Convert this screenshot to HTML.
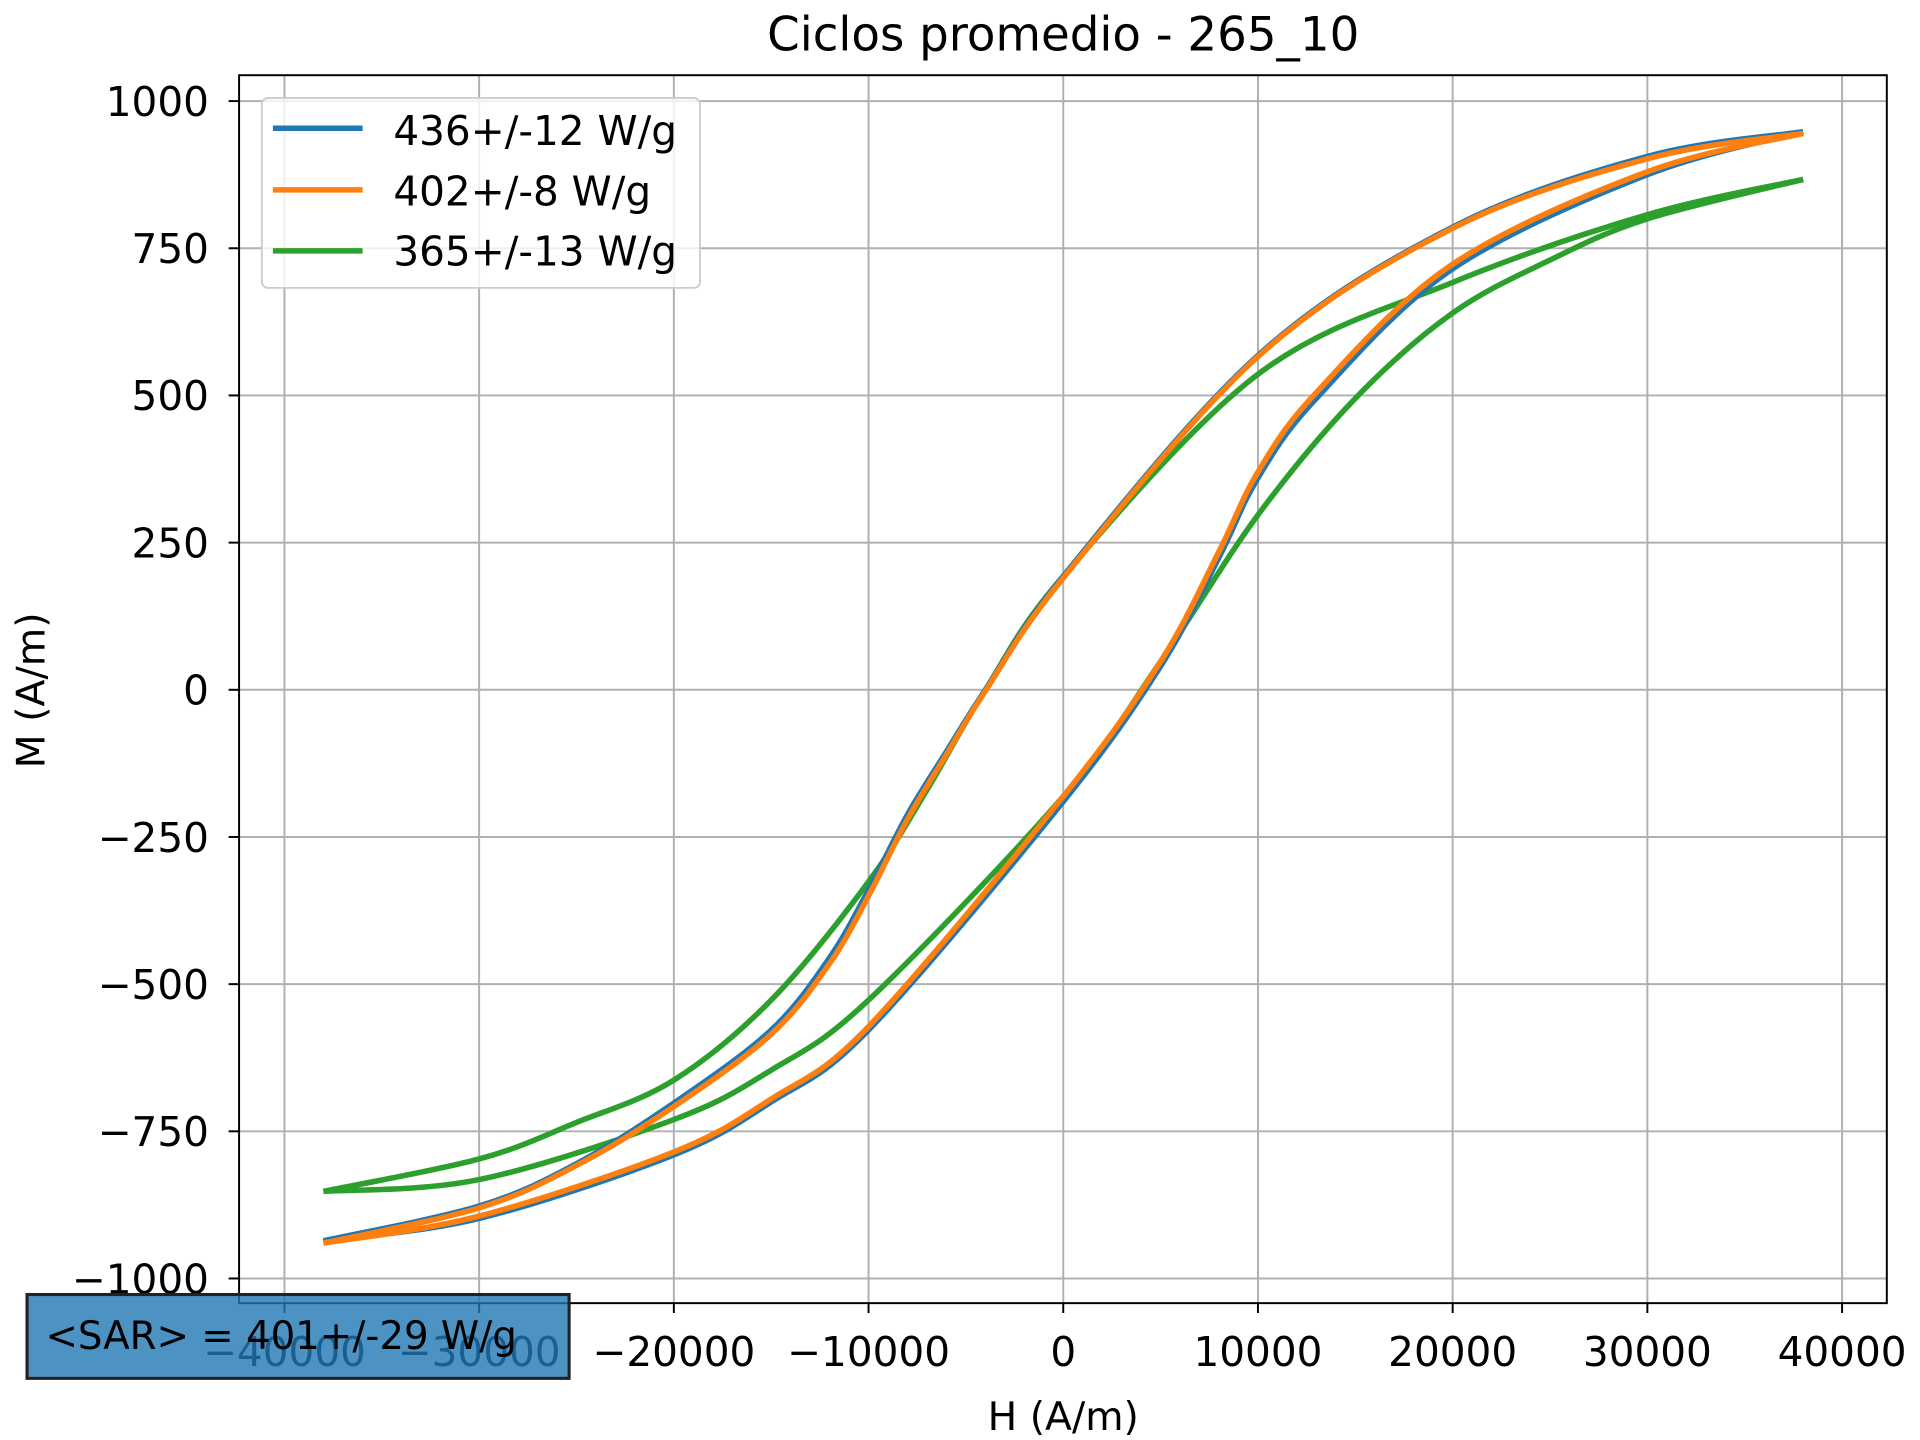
<!DOCTYPE html>
<html><head><meta charset="utf-8"><style>html,body{margin:0;padding:0;background:#fff}svg{display:block}text{font-family:"DejaVu Sans","Liberation Sans",sans-serif;fill:#000}</style></head>
<body>
<svg id="chart" width="1920" height="1440" viewBox="0 0 1562 1168" preserveAspectRatio="none" xmlns="http://www.w3.org/2000/svg">
<rect width="1562" height="1168" fill="#fff"/>
<g id="grid"></g>
<g id="series"></g>
<rect x="194.5" y="61" width="1340.5" height="996" fill="none" stroke="#000" stroke-width="1.6"/>
<g id="ticks"></g>
<text x="865" y="41" font-size="38" text-anchor="middle">Ciclos promedio - 265_10</text>
<text x="865" y="1160" font-size="32" text-anchor="middle">H (A/m)</text>
<text transform="translate(36,560) rotate(-90)" font-size="32" text-anchor="middle">M (A/m)</text>
<g>
<rect x="213" y="79.5" width="356.5" height="154" rx="5" fill="#fff" fill-opacity="0.8" stroke="#ccc" stroke-width="1.5"/>
<line x1="222" y1="104" x2="295" y2="104" stroke="#1f77b4" stroke-width="4.5"/>
<text x="320" y="117.5" font-size="33">436+/-12 W/g</text>
<line x1="222" y1="154" x2="295" y2="154" stroke="#ff7f0e" stroke-width="4.5"/>
<text x="320" y="166.5" font-size="33">402+/-8 W/g</text>
<line x1="222" y1="203.5" x2="295" y2="203.5" stroke="#2ca02c" stroke-width="4.5"/>
<text x="320" y="215.5" font-size="33">365+/-13 W/g</text>
</g>
<g>
<rect x="22" y="1050" width="441" height="68" fill="#1f77b4" fill-opacity="0.8" stroke="#222" stroke-width="2.5"/>
<text x="37" y="1094" font-size="31.5">&lt;SAR&gt; = 401+/-29 W/g</text>
</g>
</svg>
<script>
const xTicks=[-40000,-30000,-20000,-10000,0,10000,20000,30000,40000];
const yTicks=[-1000,-750,-500,-250,0,250,500,750,1000];
const hUp=[38000,30000,20000,10000,0,-4000,-6000,-8000,-10000,-12000,-15000,-20000,-25000,-30000,-38000];
const blueUp=[948,906,786,568,193,0,-105,-212,-340,-455,-578,-702,-805,-877,-936];
const orangeUp=[945,902,784,566,190,-2,-110,-220,-350,-465,-585,-708,-808,-880,-940];
const hLow=[-38000,-30000,-20000,-15000,-10000,0,5000,8000,10000,13000,20000,30000,38000];
const blueLow=[-936,-898,-790,-700,-578,-190,40,225,360,495,715,875,948];
const orangeLow=[-940,-894,-785,-695,-572,-181,48,235,370,505,723,880,945];
const hGreen=[38000,30000,20000,10000,0,-4000,-7000,-10000,-15000,-20000,-25000,-30000,-38000];
const greenUp=[867,807,692,536,193,0,-170,-326,-527,-663,-735,-797,-852];
const hGreenLow=[-38000,-30000,-20000,-15000,-10000,0,5000,10000,15000,20000,25000,30000,38000];
const greenLow=[-852,-832,-730,-646,-527,-181,48,297,495,640,730,800,867];
const X=h=>865+h*0.01584, Y=m=>559.5-m*0.4775;
const NS="http://www.w3.org/2000/svg";
function el(t,a,p){const e=document.createElementNS(NS,t);for(const k in a)e.setAttribute(k,a[k]);p.appendChild(e);return e;}
const grid=document.getElementById('grid'),ticks=document.getElementById('ticks');
xTicks.forEach(v=>{const x=X(v);
 const g=el('line',{x1:x,x2:x,y1:61,y2:1057,stroke:'#b0b0b0','stroke-width':1.6},grid);
 
 
 el('line',{x1:x,x2:x,y1:1057,y2:1065,stroke:'#000','stroke-width':1.6},ticks);
 const t=el('text',{x:x,y:1108,'font-size':33,'text-anchor':'middle'},ticks);t.textContent=String(v).replace('-','\u2212');
 
 });
yTicks.forEach(v=>{const y=Y(v);
 const g=el('line',{x1:194.5,x2:1535,y1:y,y2:y,stroke:'#b0b0b0','stroke-width':1.6},grid);
 
 
 el('line',{x1:186,x2:194.5,y1:y,y2:y,stroke:'#000','stroke-width':1.6},ticks);
 const t=el('text',{x:170,y:y+12,'font-size':33,'text-anchor':'end'},ticks);t.textContent=String(v).replace('-','\u2212');
 
 });
function path(hs,ms){const p=hs.map((h,i)=>[X(h),Y(ms[i])]);let d='M'+p[0].join(',');
 for(let i=0;i<p.length-1;i++){const p0=p[i-1]||p[i],p1=p[i],p2=p[i+1],p3=p[i+2]||p2;
 d+=` C${p1[0]+(p2[0]-p0[0])/6},${p1[1]+(p2[1]-p0[1])/6} ${p2[0]-(p3[0]-p1[0])/6},${p2[1]-(p3[1]-p1[1])/6} ${p2[0]},${p2[1]}`;}return d;}
const S=document.getElementById('series');
[[hGreen,greenUp,'#2ca02c','green-upper-branch'],[hGreenLow,greenLow,'#2ca02c','green-lower-branch'],
 [hUp,blueUp,'#1f77b4','blue-upper-branch'],[hLow,blueLow,'#1f77b4','blue-lower-branch'],
 [hUp,orangeUp,'#ff7f0e','orange-upper-branch'],[hLow,orangeLow,'#ff7f0e','orange-lower-branch']].forEach(s=>{
 const p=el('path',{d:path(s[0],s[1]),fill:'none',stroke:s[2],'stroke-width':4.5,'stroke-linejoin':'round'},S);
 
 });
</script>
</body></html>
